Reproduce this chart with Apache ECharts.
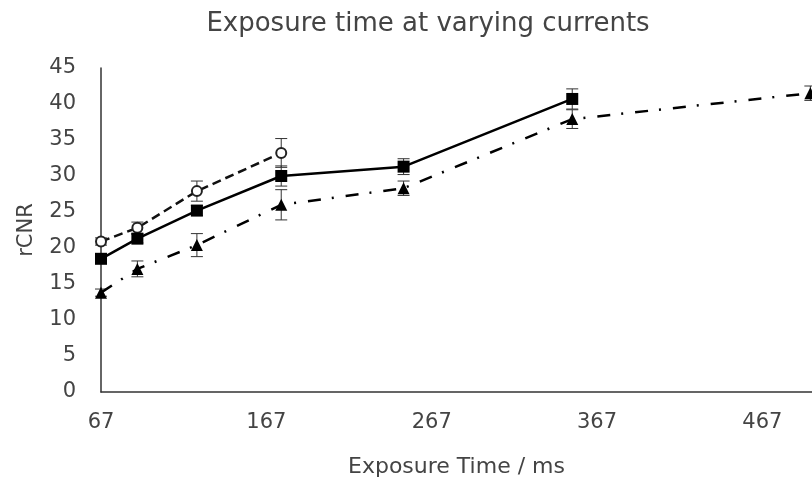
<!DOCTYPE html>
<html>
<head>
<meta charset="UTF-8">
<title>Exposure time at varying currents</title>
<script type="text/javascript" src="https://cdn.jsdelivr.net/npm/echarts@6/dist/echarts.min.js"></script>
<style>
  body{margin:0;background:#fff}
</style>
</head>
<body>
	<div id="main" style="width:812px;height:483px"></div>
	<script type="text/javascript">
	// exposure times (ms)
	var times = [67, 89, 125, 176, 250, 352, 496];
	// open circles, dashed line
	var circleVals = [20.9, 22.8, 27.9, 33.2];
	var circleErr  = [0.5, 0.8, 1.4, 2.0];
	// filled squares, solid line
	var squareVals = [18.5, 21.3, 25.2, 30.0, 31.3, 40.7];
	var squareErr  = [0.5, 0.6, 0.7, 1.4, 1.1, 1.4];
	// filled triangles, dash-dot line
	var triVals = [13.8, 17.1, 20.4, 26.0, 28.3, 37.9, 41.5];
	var triErr  = [0.5, 1.1, 1.6, 2.1, 1.0, 1.3, 1.0];

	var font = 'DejaVu Sans';
	var txt = '#444';

	function pairs(vals){
		return vals.map(function(v, i){ return [times[i], v]; });
	}

	// error bars drawn with a custom series
	function errBars(vals, errs){
		return {
			type: 'custom',
			z: 1,
			silent: true,
			encode: {x: 0, y: [1, 2]},
			data: vals.map(function(v, i){ return [times[i], v - errs[i], v + errs[i]]; }),
			renderItem: function(params, api){
				var lo = api.coord([api.value(0), api.value(1)]);
				var hi = api.coord([api.value(0), api.value(2)]);
				var w = 6;
				var st = {stroke: '#333', lineWidth: 1};
				return {type: 'group', children: [
					{type: 'line', shape: {x1: lo[0], y1: lo[1], x2: hi[0], y2: hi[1]}, style: st},
					{type: 'line', shape: {x1: lo[0] - w, y1: lo[1], x2: lo[0] + w, y2: lo[1]}, style: st},
					{type: 'line', shape: {x1: hi[0] - w, y1: hi[1], x2: hi[0] + w, y2: hi[1]}, style: st}
				]};
			}
		};
	}

	var myEchart = echarts.init(document.getElementById('main'));
	var option = {
		animation: false,
		backgroundColor: '#fff',
		title: {
			text: 'Exposure time at varying currents',
			left: 423, top: 6, textAlign: 'center',
			textStyle: {fontFamily: font, fontSize: 26, fontWeight: 'normal', color: txt}
		},
		grid: {left: 101, right: 0, top: 68, bottom: 90},
		xAxis: {
			type: 'value',
			min: 67, max: 497, interval: 100,
			name: 'Exposure Time / ms',
			nameLocation: 'middle', nameGap: 64,
			nameTextStyle: {fontFamily: font, fontSize: 22, color: txt},
			axisLine: {lineStyle: {color: '#333', width: 1.5}},
			axisTick: {show: false},
			splitLine: {show: false},
			axisLabel: {fontFamily: font, fontSize: 21, color: txt, margin: 20, showMaxLabel: false}
		},
		yAxis: {
			type: 'value',
			min: 0, max: 45, interval: 5,
			name: 'rCNR',
			nameLocation: 'middle', nameGap: 64, nameRotate: 90,
			nameTextStyle: {fontFamily: font, fontSize: 21, color: txt},
			axisLine: {show: true, lineStyle: {color: '#333', width: 1.5}},
			axisTick: {show: false},
			splitLine: {show: false},
			axisLabel: {fontFamily: font, fontSize: 21, color: txt, margin: 25}
		},
		series: [
			errBars(circleVals, circleErr),
			errBars(squareVals, squareErr),
			errBars(triVals, triErr),
			{
				type: 'line', z: 2,
				data: pairs(circleVals),
				symbol: 'emptyCircle', symbolSize: 10,
				itemStyle: {color: '#222', borderWidth: 1},
				lineStyle: {color: '#111', width: 2.5, type: [9, 5]}
			},
			{
				type: 'line', z: 3,
				data: pairs(squareVals),
				symbol: 'rect', symbolSize: 12,
				itemStyle: {color: '#000'},
				lineStyle: {color: '#000', width: 2.5, type: 'solid'}
			},
			{
				type: 'line', z: 2,
				data: pairs(triVals),
				symbol: 'triangle', symbolSize: 12,
				itemStyle: {color: '#000'},
				lineStyle: {color: '#000', width: 2.5, type: [13, 11, 2, 12]}
			}
		]
	};
	myEchart.setOption(option);
	</script>
</body>
</html>
